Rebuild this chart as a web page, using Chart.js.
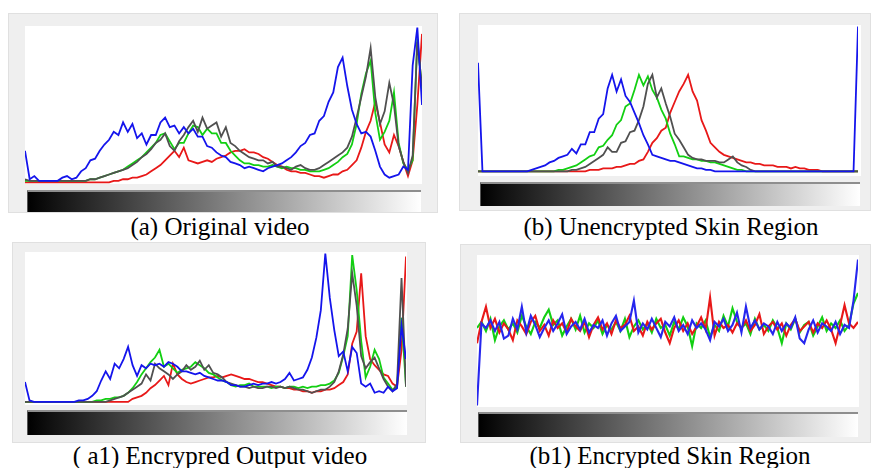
<!DOCTYPE html>
<html>
<head>
<meta charset="utf-8">
<script src="https://cdn.jsdelivr.net/npm/chart.js@4/dist/chart.umd.min.js"></script>
<style>
  html, body { margin: 0; padding: 0; background: #fff; }
  #page { position: relative; width: 871px; height: 468px; overflow: hidden; background: #fff; }
  .frame { position: absolute; background: #efefef; border: 1px solid #e0e0e0; box-sizing: border-box; }
  .plot { position: absolute; background: #fff; }
  .grad { position: absolute; box-sizing: border-box;
          background: linear-gradient(to right, #000 0%, #111 6%, #fff 100%);
          border-top: 2px solid #8e8e8e; border-left: 1px solid #555; }
  canvas { position: absolute; }
  .cap { position: absolute; font-family: "Liberation Serif", "Times New Roman", serif;
         font-size: 25px; line-height: 25px; color: #000; white-space: nowrap; transform: translateX(-50%); }
</style>
</head>
<body>
<div id="page">
  <!-- (a) -->
  <div class="frame" style="left:8px;top:13px;width:430px;height:200px;"></div>
  <div class="plot" style="left:25px;top:26px;width:397px;height:158px;"></div>
  <canvas id="histA" width="397" height="158" style="left:25px;top:26px;"></canvas>
  <div class="grad" style="left:27px;top:190px;width:394px;height:22px;"></div>
  <div class="cap" style="left:220px;top:214px;">(a) Original video</div>

  <!-- (b) -->
  <div class="frame" style="left:459px;top:13px;width:412px;height:198px;"></div>
  <div class="plot" style="left:478px;top:25px;width:383px;height:151px;"></div>
  <canvas id="histB" width="380" height="151" style="left:478px;top:25px;"></canvas>
  <div class="grad" style="left:480px;top:182px;width:380px;height:24px;"></div>
  <div class="cap" style="left:671px;top:214px;">(b) Unencrypted Skin Region</div>

  <!-- (a1) -->
  <div class="frame" style="left:12px;top:242px;width:414px;height:201px;"></div>
  <div class="plot" style="left:25px;top:252px;width:382px;height:153px;"></div>
  <canvas id="histA1" width="381" height="153" style="left:25px;top:252px;"></canvas>
  <div class="grad" style="left:27px;top:410px;width:380px;height:25px;"></div>
  <div class="cap" style="left:220px;top:443px;">( a1) Encrypred Output video</div>

  <!-- (b1) -->
  <div class="frame" style="left:460px;top:244px;width:411px;height:199px;"></div>
  <div class="plot" style="left:477px;top:255px;width:382px;height:152px;"></div>
  <canvas id="histB1" width="381" height="152" style="left:477px;top:255px;"></canvas>
  <div class="grad" style="left:478px;top:412px;width:380px;height:25px;"></div>
  <div class="cap" style="left:670px;top:443px;">(b1) Encrypted Skin Region</div>
</div>

<script>
// Intensity levels 0..255 sampled every 3 levels (86 bins)
const levels = Array.from({ length: 86 }, (_, i) => i * 3);

// (a) Original video — relative histogram heights (0..100)
const originalBlue = [
  21, 3, 5, 2, 2, 2, 2, 2, 4, 5,
  3, 4, 8, 10, 15, 16, 21, 25, 28, 33,
  31, 39, 33, 38, 29, 32, 25, 31, 31, 39,
  42, 36, 37, 32, 36, 32, 35, 30, 30, 24,
  23, 20, 18, 17, 14, 13, 12, 10, 11, 10,
  9, 8, 10, 11, 12, 13, 15, 17, 20, 24,
  26, 31, 32, 40, 43, 52, 58, 74, 80, 62,
  47, 38, 32, 33, 30, 21, 11, 6, 4, 5,
  6, 11, 9, 75, 99, 50
];
const originalGray = [
  3, 2, 2, 2, 2, 2, 2, 2, 2, 2,
  2, 2, 2, 2, 3, 3, 4, 5, 6, 7,
  8, 9, 10, 12, 14, 17, 19, 22, 26, 28,
  32, 24, 21, 27, 31, 36, 40, 33, 42, 35,
  37, 39, 30, 36, 26, 24, 21, 19, 17, 16,
  15, 15, 13, 14, 11, 11, 10, 9, 11, 12,
  10, 9, 9, 10, 12, 14, 16, 18, 20, 23,
  30, 42, 55, 68, 86, 55, 38, 46, 64, 50,
  24, 14, 7, 18, 90, 62
];
const originalGreen = [
  2, 2, 2, 2, 2, 2, 2, 2, 2, 2,
  2, 2, 2, 2, 3, 3, 4, 5, 6, 7,
  8, 9, 11, 13, 15, 17, 20, 23, 26, 31,
  32, 27, 22, 26, 26, 32, 37, 36, 31, 35,
  32, 32, 26, 26, 21, 18, 15, 13, 13, 12,
  12, 11, 11, 12, 11, 10, 11, 10, 10, 9,
  9, 8, 8, 8, 9, 10, 12, 14, 17, 19,
  25, 38, 57, 70, 78, 45, 28, 33, 40, 58,
  26, 13, 9, 15, 92, 60
];
const originalRed = [
  1, 1, 1, 1, 1, 1, 1, 1, 1, 1,
  1, 1, 1, 1, 1, 1, 1, 1, 1, 2,
  2, 3, 3, 4, 4, 5, 6, 8, 10, 12,
  15, 18, 21, 17, 23, 15, 14, 13, 14, 15,
  14, 16, 17, 18, 20, 21, 21, 22, 20, 20,
  19, 17, 16, 14, 12, 11, 9, 8, 8, 7,
  7, 6, 5, 5, 4, 5, 6, 6, 8, 9,
  12, 15, 23, 33, 40, 52, 39, 25, 20, 31,
  24, 14, 5, 15, 50, 95
];

// (b) Unencrypted skin region
const skinBlue = [
  75, 3, 3, 3, 3, 3, 3, 3, 3, 3,
  3, 3, 4, 5, 6, 7, 9, 10, 12, 13,
  14, 18, 15, 21, 21, 29, 29, 38, 41, 58,
  67, 56, 64, 53, 49, 42, 35, 27, 21, 14,
  13, 12, 11, 10, 10, 9, 8, 7, 6, 5,
  5, 4, 4, 3, 3, 3, 3, 3, 3, 3,
  3, 3, 3, 3, 3, 3, 3, 3, 3, 3,
  3, 3, 3, 3, 3, 3, 3, 3, 3, 3,
  3, 3, 3, 3, 3, 99
];
const skinGreen = [
  3, 3, 3, 3, 3, 3, 3, 3, 3, 3,
  3, 3, 3, 3, 3, 3, 3, 3, 4, 4,
  5, 6, 7, 9, 11, 13, 14, 19, 20, 24,
  27, 34, 37, 46, 48, 57, 67, 60, 66, 57,
  52, 44, 38, 28, 21, 13, 13, 12, 11, 11,
  10, 10, 9, 9, 8, 7, 6, 5, 4, 4,
  3, 3, 3, 3, 3, 3, 3, 3, 3, 3,
  3, 3, 3, 3, 3, 3, 3, 3, 3, 3,
  3, 3, 3, 3, 3, 3
];
const skinGray = [
  3, 3, 3, 3, 3, 3, 3, 3, 3, 3,
  3, 3, 3, 3, 3, 3, 3, 3, 3, 3,
  3, 4, 4, 5, 6, 8, 10, 12, 14, 19,
  16, 16, 22, 23, 29, 30, 37, 46, 61, 67,
  52, 58, 48, 39, 28, 24, 19, 14, 12, 11,
  11, 10, 10, 10, 9, 9, 11, 13, 9, 7,
  6, 4, 3, 3, 3, 3, 3, 3, 3, 3,
  3, 3, 3, 3, 3, 3, 3, 3, 3, 3,
  3, 3, 3, 3, 3, 3
];
const skinRed = [
  3, 3, 3, 3, 3, 3, 3, 3, 3, 3,
  3, 3, 3, 3, 3, 3, 3, 3, 3, 3,
  3, 3, 3, 3, 3, 4, 4, 4, 5, 5,
  5, 6, 6, 7, 8, 8, 10, 11, 16, 22,
  25, 30, 32, 42, 49, 56, 61, 67, 56, 50,
  37, 30, 22, 19, 16, 14, 13, 12, 11, 10,
  9, 9, 8, 8, 7, 7, 7, 6, 6, 6,
  5, 6, 5, 5, 4, 4, 4, 3, 3, 3,
  3, 3, 3, 3, 3, 3
];

// (a1) Encrypted output video
const encBlue = [
  15, 3, 2, 2, 2, 2, 2, 2, 2, 2,
  2, 2, 3, 3, 4, 6, 9, 16, 22, 17,
  27, 24, 30, 38, 26, 19, 26, 24, 27, 26,
  27, 25, 28, 27, 25, 22, 22, 21, 20, 21,
  19, 18, 17, 16, 16, 15, 13, 13, 12, 12,
  13, 14, 13, 14, 14, 15, 14, 15, 17, 21,
  16, 17, 18, 23, 31, 44, 62, 99, 70, 49,
  32, 35, 22, 38, 34, 14, 12, 14, 8, 9,
  8, 12, 9, 11, 52, 30
];
const encGreen = [
  2, 2, 2, 2, 2, 2, 2, 2, 2, 2,
  2, 2, 2, 2, 2, 2, 3, 3, 4, 4,
  5, 5, 6, 8, 11, 15, 20, 24, 28, 31,
  36, 25, 27, 24, 21, 23, 24, 25, 28, 26,
  24, 21, 20, 18, 16, 15, 13, 12, 13, 13,
  14, 12, 12, 12, 12, 11, 12, 12, 11, 12,
  12, 11, 12, 11, 12, 12, 13, 13, 14, 16,
  21, 32, 45, 98, 75, 42, 18, 25, 36, 30,
  18, 14, 10, 12, 57, 12
];
const encGray = [
  2, 2, 2, 2, 2, 2, 2, 2, 2, 2,
  2, 2, 2, 2, 2, 2, 2, 2, 2, 3,
  4, 5, 6, 8, 10, 12, 14, 20, 16, 27,
  24, 22, 20, 17, 20, 22, 26, 23, 25, 29,
  23, 26, 21, 20, 18, 15, 14, 13, 12, 12,
  11, 12, 11, 11, 12, 12, 11, 12, 11, 12,
  11, 10, 10, 9, 8, 9, 10, 10, 12, 15,
  22, 33, 50, 86, 65, 32, 24, 28, 31, 24,
  17, 12, 9, 14, 83, 12
];
const encRed = [
  2, 2, 2, 2, 2, 2, 2, 2, 2, 2,
  2, 2, 2, 2, 2, 2, 2, 2, 2, 2,
  2, 2, 2, 2, 4, 5, 6, 8, 11, 13,
  16, 19, 13, 27, 20, 17, 15, 14, 15, 16,
  17, 18, 18, 19, 18, 19, 20, 19, 18, 17,
  17, 16, 15, 15, 14, 13, 12, 12, 11, 11,
  10, 10, 9, 9, 8, 9, 9, 10, 10, 11,
  13, 15, 20, 40, 48, 86, 45, 30, 26, 23,
  20, 19, 14, 12, 36, 97
];

// (b1) Encrypted skin region
const noiseBlue = [
  1, 55, 52, 57, 50, 56, 45, 47, 58, 51,
  66, 49, 60, 54, 46, 52, 57, 50, 55, 61,
  48, 53, 56, 51, 58, 49, 54, 52, 57, 47,
  55, 60, 50, 53, 56, 70, 49, 55, 51, 58,
  52, 46, 56, 53, 59, 50, 54, 48, 57, 52,
  55, 51, 44, 56, 53, 58, 50, 54, 62, 49,
  66, 52, 57, 51, 55, 53, 48, 56, 50, 55,
  52, 59, 45, 42, 51, 57, 49, 55, 53, 50,
  56, 48, 54, 52, 70, 97
];
const noiseGreen = [
  52, 56, 50, 58, 44, 53, 57, 51, 55, 49,
  60, 53, 48, 56, 52, 59, 64, 54, 57, 47,
  53, 58, 51, 60, 49, 55, 52, 57, 48, 54,
  51, 56, 50, 58, 46, 53, 57, 51, 55, 49,
  58, 52, 54, 47, 56, 51, 59, 53, 40, 55,
  52, 57, 46, 54, 50, 60, 53, 65, 56, 52,
  55, 48, 58, 51, 54, 50, 57, 52, 42, 55,
  51, 58, 49, 54, 56, 47, 53, 59, 50, 55,
  52, 57, 50, 54, 68, 75
];
const noiseRed = [
  42, 56, 66, 52, 58, 49, 55, 51, 44, 57,
  53, 48, 56, 60, 50, 54, 47, 57, 52, 55,
  49, 58, 53, 50, 56, 46, 54, 59, 51, 55,
  48, 57, 52, 54, 60, 50, 53, 47, 56, 51,
  55, 58, 49, 42, 52, 57, 50, 55, 48, 53,
  59, 51, 72, 47, 56, 52, 54, 49, 55, 52,
  57, 50, 54, 61, 48, 53, 56, 51, 55, 47,
  54, 58, 50, 53, 56, 49, 55, 52, 57, 51,
  42, 54, 67, 55, 52, 56
];

const BLUE = '#1414ec';
const GREEN = '#12cf12';
const RED = '#e81818';
const GRAY = '#505050';

function histogram(canvasId, series, width) {
  return new Chart(document.getElementById(canvasId), {
    type: 'line',
    data: {
      labels: levels,
      datasets: series.map(s => ({
        data: s.values,
        borderColor: s.color,
        borderWidth: width,
        pointRadius: 0,
        tension: 0,
        fill: false,
        order: s.order
      }))
    },
    options: {
      responsive: false,
      animation: false,
      devicePixelRatio: 1,
      events: [],
      layout: { padding: 0 },
      plugins: { legend: { display: false }, tooltip: { enabled: false } },
      scales: {
        x: { type: 'category', display: false, offset: false },
        y: { display: false, min: 0, max: 100 }
      }
    }
  });
}

histogram('histA', [
  { values: originalBlue, color: BLUE, order: 0 },
  { values: originalGray, color: GRAY, order: 1 },
  { values: originalGreen, color: GREEN, order: 2 },
  { values: originalRed, color: RED, order: 3 }
], 1.8);
histogram('histB', [
  { values: skinBlue, color: BLUE, order: 0 },
  { values: skinGray, color: GRAY, order: 1 },
  { values: skinGreen, color: GREEN, order: 2 },
  { values: skinRed, color: RED, order: 3 }
], 1.8);
histogram('histA1', [
  { values: encBlue, color: BLUE, order: 0 },
  { values: encGray, color: GRAY, order: 1 },
  { values: encGreen, color: GREEN, order: 2 },
  { values: encRed, color: RED, order: 3 }
], 1.8);
histogram('histB1', [
  { values: noiseBlue, color: '#2626ee', order: 0 },
  { values: noiseRed, color: RED, order: 1 },
  { values: noiseGreen, color: GREEN, order: 2 }
], 2.1);
</script>
</body>
</html>
